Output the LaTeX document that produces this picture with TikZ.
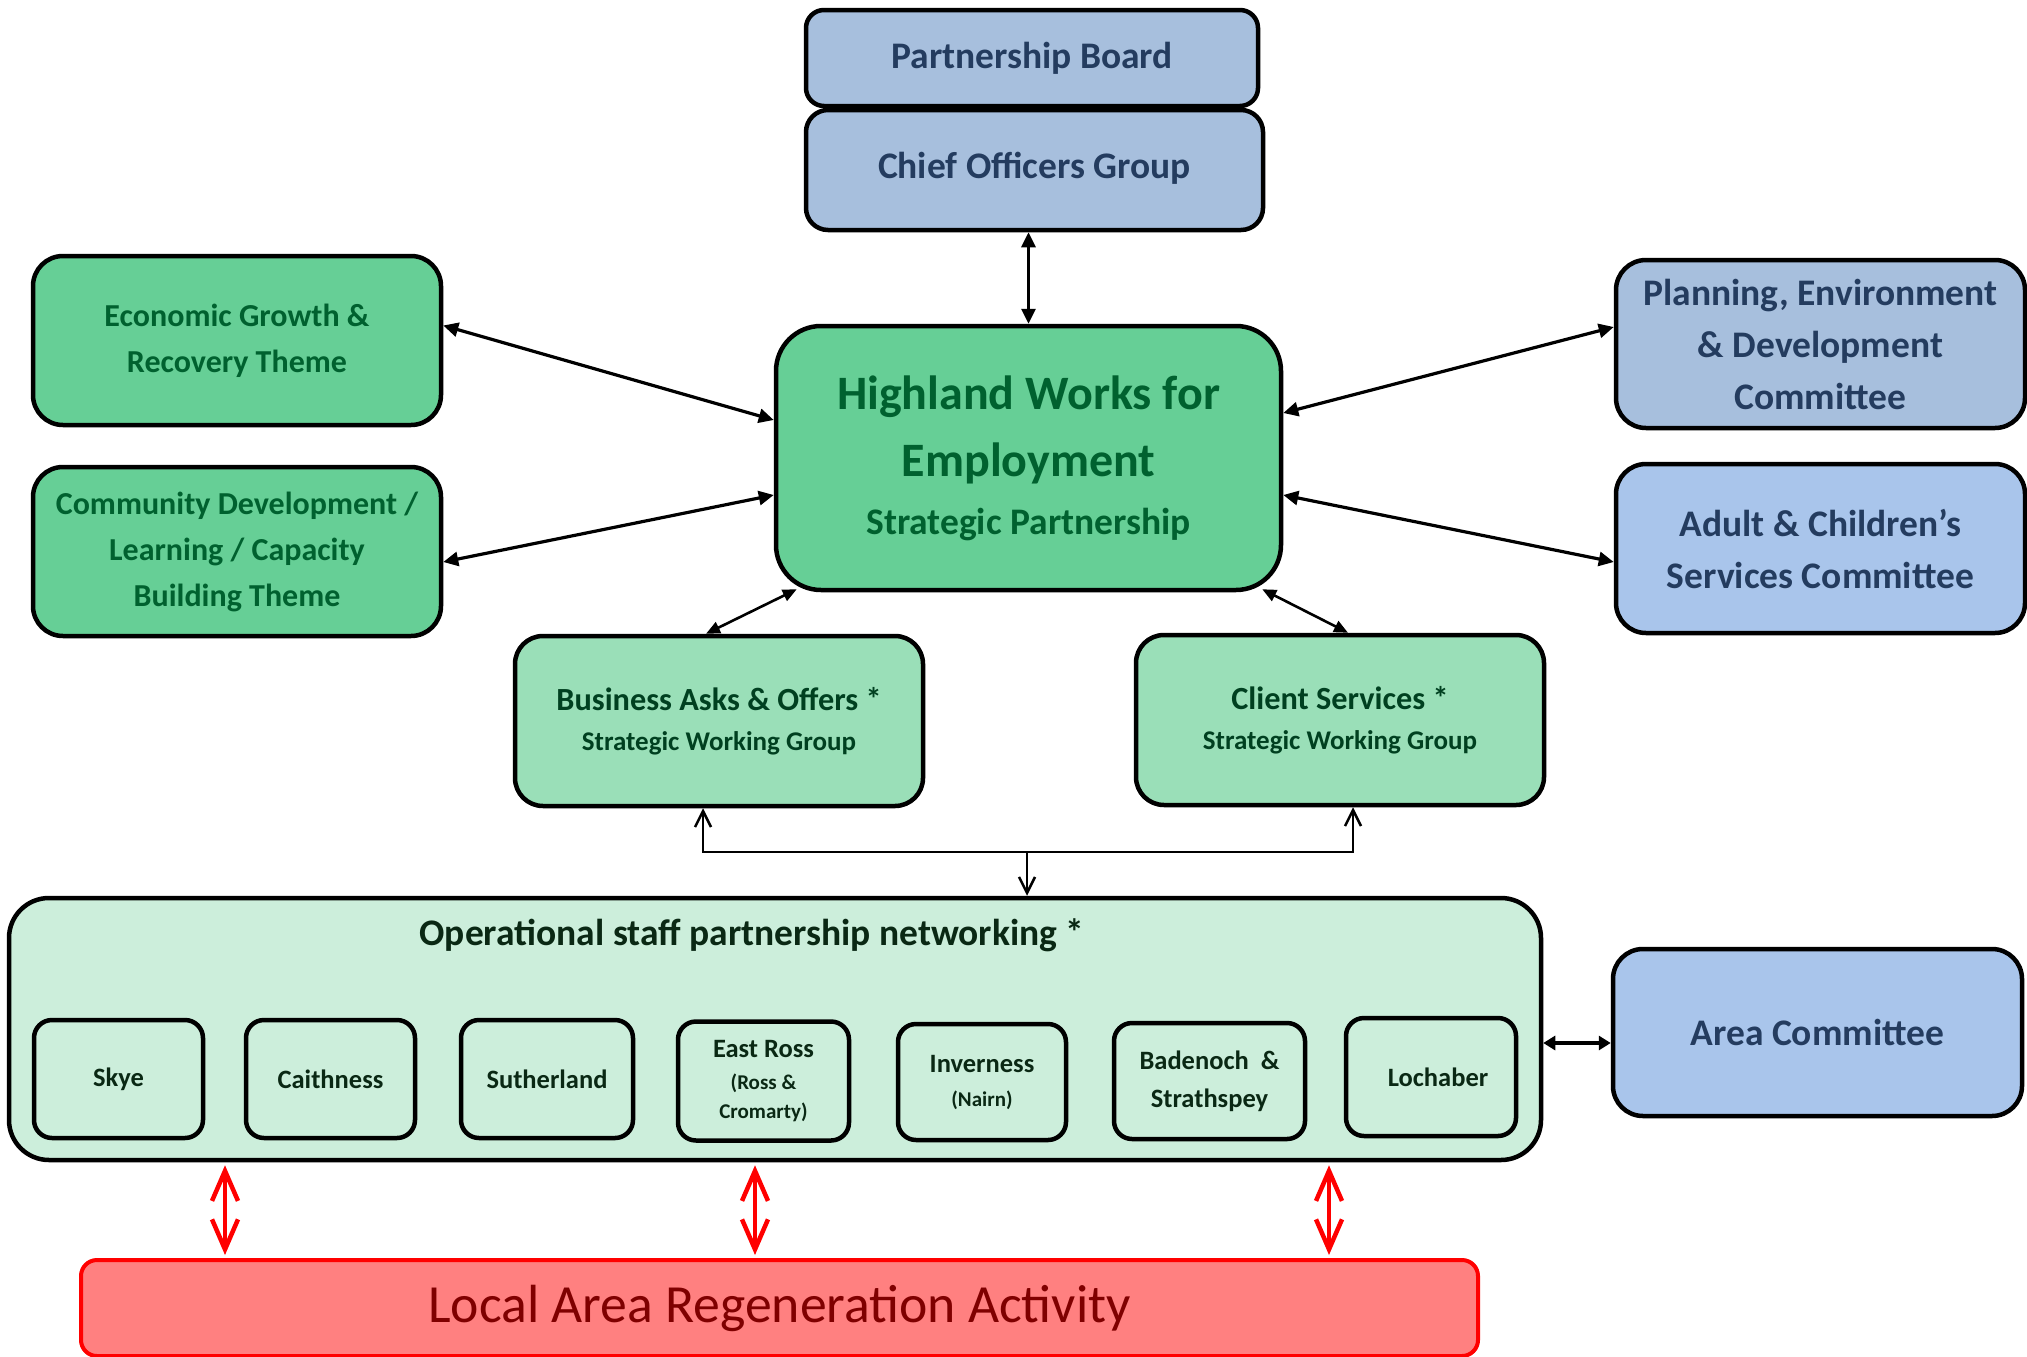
\documentclass[tikz,border=0pt]{standalone}
\usepackage{fontspec}
\setmainfont{Carlito}
\usetikzlibrary{arrows.meta,calc}
\definecolor{gmain}{RGB}{102,207,150}
\definecolor{gmid}{RGB}{154,223,184}
\definecolor{glight}{RGB}{204,238,219}
\definecolor{bgrey}{RGB}{167,191,221}
\definecolor{blight}{RGB}{169,197,235}
\definecolor{rfill}{RGB}{255,128,128}
\definecolor{rline}{RGB}{255,0,0}
\definecolor{rtext}{RGB}{127,0,0}
\definecolor{tgreen}{RGB}{0,97,47}
\definecolor{tgreenb}{RGB}{0,64,32}
\definecolor{tgreenc}{RGB}{10,40,20}
\definecolor{tblue}{RGB}{36,60,95}
\begin{document}
\begin{tikzpicture}[x=1pt,y=-1pt,
  box/.style={draw=black, line width=4.5pt, rounded corners=#1, inner sep=0pt, align=center},
  box/.default=28pt,
  bluebox/.style={box, fill=bgrey, text=tblue, font=\bfseries\fontsize{37.5}{44}\selectfont},
  themebox/.style={box=30pt, fill=gmain, text=tgreen, font=\bfseries\fontsize{32}{46}\selectfont},
  cttbox/.style={box=30pt, fill=blight, text=tblue, font=\bfseries\fontsize{37.5}{52}\selectfont},
  swgbox/.style={box=28pt, fill=gmid, text=tgreenb, font=\bfseries\fontsize{32.3}{42}\selectfont},
  areabox/.style={box=18pt, fill=glight, text=tgreenc, font=\bfseries\fontsize{26.5}{32}\selectfont},
  mainarrow/.style={line width=3.2pt, {Triangle[length=15pt,width=14pt]}-{Triangle[length=15pt,width=14pt]}},
  swgarrow/.style={line width=2.6pt, {Triangle[length=14pt,width=12pt]}-{Triangle[length=14pt,width=12pt]}},
  linkarrow/.style={line width=2.5pt, -{Straight Barb[length=16pt,width=16pt,line width=2.5pt]}},
  redarrow/.style={draw=rline, line width=4.5pt, {Straight Barb[length=30pt,width=26pt]}-{Straight Barb[length=30pt,width=26pt]}}
]
\useasboundingbox (0,0) rectangle (2027,1357);

% top
\node[bluebox, box=18pt, minimum width=452pt, minimum height=96pt] (pb) at (1032,58) {Partnership Board};
\node[bluebox, box=22pt, minimum width=457pt, minimum height=120pt] (cog) at (1034.5,170) {\raisebox{10pt}{Chief Officers Group}};

% central
\node[box=45pt, fill=gmain, text=tgreen, font=\bfseries\fontsize{48}{67}\selectfont, minimum width=505pt, minimum height=264pt] (hwe) at (1028.5,458)
  {Highland Works for\\Employment\\[-9pt]{\fontsize{37.5}{44}\selectfont Strategic Partnership}};

% left themes
\node[themebox, minimum width=408pt, minimum height=169pt] (econ) at (237,340.5) {Economic Growth \&\\Recovery Theme};
\node[themebox, minimum width=408pt, minimum height=169pt] (comm) at (237,551.5) {Community Development /\\Learning / Capacity\\Building Theme};

% right committees
\node[cttbox, fill=bgrey, minimum width=409pt, minimum height=168pt] (plan) at (1820.5,344) {Planning, Environment\\\& Development\\Committee};
\node[cttbox, minimum width=409pt, minimum height=169pt] (adult) at (1820.5,548.5) {Adult \& Children’s\\Services Committee};

% working groups
\node[swgbox, minimum width=408pt, minimum height=170pt] (bus) at (719,721) {Business Asks \& Offers *\\[-2pt]{\fontsize{27}{32}\selectfont Strategic Working Group}};
\node[swgbox, minimum width=408pt, minimum height=170pt] (cli) at (1340,720) {Client Services *\\[-2pt]{\fontsize{27}{32}\selectfont Strategic Working Group}};

% operational
\node[box=40pt, fill=glight, minimum width=1532pt, minimum height=262pt] (ops) at (775,1029) {};
\node[text=tgreenc, font=\bfseries\fontsize{37.5}{44}\selectfont] (opstitle) at (752,935) {Operational staff partnership networking *};

\node[areabox, minimum width=169pt, minimum height=118pt] (skye) at (118.5,1079) {Skye};
\node[areabox, minimum width=169pt, minimum height=118pt] (caith) at (330.5,1079) {Caithness};
\node[areabox, minimum width=172pt, minimum height=118pt] (suth) at (547,1079) {Sutherland};
\node[areabox, minimum width=171pt, minimum height=119pt] (east) at (763.5,1081) {East Ross\\{\fontsize{21}{25}\selectfont (Ross \&}\\[-3pt]{\fontsize{21}{25}\selectfont Cromarty)}};
\node[areabox, minimum width=168pt, minimum height=116pt] (inv) at (982,1082) {Inverness\\[2pt]{\fontsize{21}{25}\selectfont (Nairn)}};
\node[areabox, minimum width=191pt, minimum height=116pt] (bad) at (1209.5,1081) {Badenoch~~\&\\[6pt]Strathspey};
\node[areabox, minimum width=170pt, minimum height=118pt] (loch) at (1431,1077) {\hspace*{14pt}Lochaber};

\node[cttbox, minimum width=409pt, minimum height=167pt] (area) at (1817.5,1032.5) {Area Committee};

% local area regeneration
\node[draw=rline, line width=4pt, fill=rfill, rounded corners=16pt, minimum width=1397pt, minimum height=96pt, text=rtext, font=\fontsize{53.7}{60}\selectfont] (lar) at (779.5,1308) {Local Area Regeneration Activity};

% connectors
\draw[mainarrow] (hwe.north |- cog.south) -- (hwe.north);
\draw[mainarrow] ([yshift=15pt]econ.east) -- ([yshift=38pt]hwe.west);
\draw[mainarrow] ([yshift=-10.5pt]comm.east) -- ([yshift=-37pt]hwe.west);
\draw[mainarrow] ([yshift=17pt]plan.west) -- ([yshift=45pt]hwe.east);
\draw[mainarrow] ([yshift=-13.5pt]adult.west) -- ([yshift=-37pt]hwe.east);
\draw[swgarrow] ([xshift=-13pt]bus.north) -- ($(hwe.south west)+(23,-3)$);
\draw[swgarrow] ([xshift=8pt]cli.north) -- ($(hwe.south east)+(-21,-3)$);

\coordinate (jn) at (1027,852);
\draw[linkarrow] (jn) -- (jn |- ops.north);
\draw[linkarrow] (jn) -| ([xshift=-16pt]bus.south);
\draw[linkarrow] (jn) -| ([xshift=13pt]cli.south);

\draw[line width=4.5pt, {Triangle[length=12pt,width=14pt]}-{Triangle[length=12pt,width=14pt]}] ([yshift=-14pt]ops.east) -- ([yshift=-14pt]ops.east -| area.west);

\coordinate (r1) at (225,1210);
\coordinate (r2) at (755,1210);
\coordinate (r3) at (1329,1210);
\draw[redarrow] ([yshift=-3pt]ops.south -| r1) -- ([yshift=3pt]lar.north -| r1);
\draw[redarrow] ([yshift=-3pt]ops.south -| r2) -- ([yshift=3pt]lar.north -| r2);
\draw[redarrow] ([yshift=-3pt]ops.south -| r3) -- ([yshift=3pt]lar.north -| r3);
\end{tikzpicture}
\end{document}
